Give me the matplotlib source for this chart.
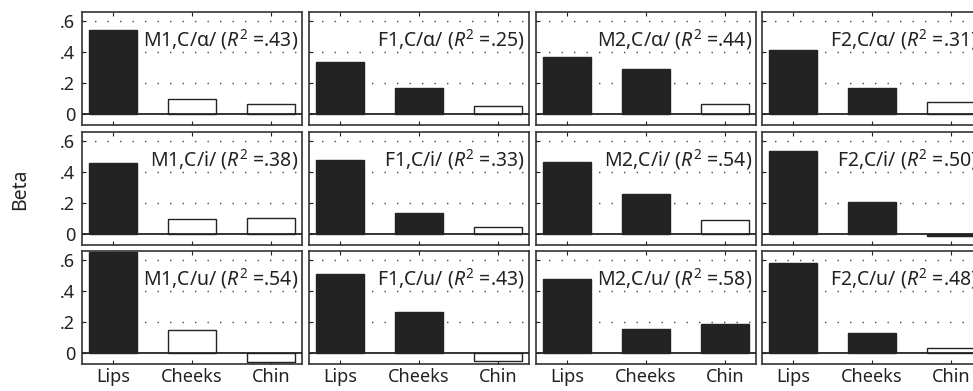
import numpy as np
import matplotlib
matplotlib.use("Agg")
import matplotlib.pyplot as plt

plt.rcParams['font.family'] = ['Noto Sans', 'DejaVu Sans']
plt.rcParams['mathtext.fontset'] = 'custom'
plt.rcParams['mathtext.rm'] = 'Noto Sans'
plt.rcParams['mathtext.it'] = 'Noto Sans:italic'

speakers = ['M1', 'F1', 'M2', 'F2']
vowels = ['ɑ', 'i', 'u']
regions = ['Lips', 'Cheeks', 'Chin']

# beta values per vowel row, speaker column: [Lips, Cheeks, Chin]
beta_a = [[0.54, 0.095, 0.065], [0.335, 0.17, 0.054], [0.37, 0.29, 0.065], [0.41, 0.17, 0.075]]
beta_i = [[0.456, 0.096, 0.106], [0.478, 0.138, 0.047], [0.466, 0.26, 0.09], [0.535, 0.208, -0.015]]
beta_u = [[0.65, 0.148, -0.054], [0.51, 0.265, -0.05], [0.48, 0.157, 0.187], [0.58, 0.13, 0.036]]

# 1 = significant (filled dark), 0 = not significant (white)
sig_a = [[1, 0, 0], [1, 1, 0], [1, 1, 0], [1, 1, 0]]
sig_i = [[1, 0, 0], [1, 1, 0], [1, 1, 0], [1, 1, 1]]
sig_u = [[1, 0, 0], [1, 1, 0], [1, 1, 1], [1, 1, 0]]

r2_a = ['.43', '.25', '.44', '.31']
r2_i = ['.38', '.33', '.54', '.50']
r2_u = ['.54', '.43', '.58', '.48']

betas = [beta_a, beta_i, beta_u]
sigs = [sig_a, sig_i, sig_u]
r2s = [r2_a, r2_i, r2_u]

W, H = 973, 391
fig = plt.figure(figsize=(W / 100, H / 100), dpi=100)

col_left = [82, 309, 536, 762]
row_top = [12, 132, 251]
ax_w, ax_h = 220, 113
dark = '#232323'
x = np.arange(1, 4)

for r in range(3):
    for c in range(4):
        l = col_left[c]
        t = row_top[r]
        ax = fig.add_axes([l / W, 1 - (t + ax_h) / H, ax_w / W, ax_h / H])
        vals = betas[r][c]
        cols = [dark if s else 'white' for s in sigs[r][c]]
        ax.bar(x, vals, width=0.61, color=cols, edgecolor=dark, linewidth=1.0, zorder=3)
        ax.axhline(0, color=dark, lw=1.3, zorder=4)
        ax.set_xlim(0.61, 3.39)
        ax.set_ylim(-0.07, 0.658)
        ax.set_yticks([0, 0.2, 0.4, 0.6])
        ax.set_xticks(x)
        for yv in [0.2, 0.4, 0.6]:
            ax.axhline(yv, color='#444444', lw=1.0, ls=(0, (1, 8)), zorder=1)
        ax.tick_params(direction='in', length=3, width=0.8, top=True, right=False,
                       labelsize=13, colors='#222222')
        ax.tick_params(axis='x', pad=3)
        ax.tick_params(axis='y', pad=5)
        if c == 0:
            ax.set_yticklabels(['0', '.2', '.4', '.6'])
        else:
            ax.set_yticklabels([])
        if r == 2:
            ax.set_xticklabels(regions)
        else:
            ax.set_xticklabels([])
        for s in ax.spines.values():
            s.set_color('#333333')
            s.set_linewidth(1.2)
        label = f"{speakers[c]},C/{vowels[r]}/ ($R^2$ ={r2s[r][c]})"
        ax.text(0.982, 0.757, label, transform=ax.transAxes, ha='right', va='center',
                fontsize=14, color='#222222', zorder=5)

fig.text(20 / W, 1 - 189 / H, 'Beta', rotation=90, ha='center', va='center',
         fontsize=14, color='#222222')

fig.savefig('out.png', dpi=100)
